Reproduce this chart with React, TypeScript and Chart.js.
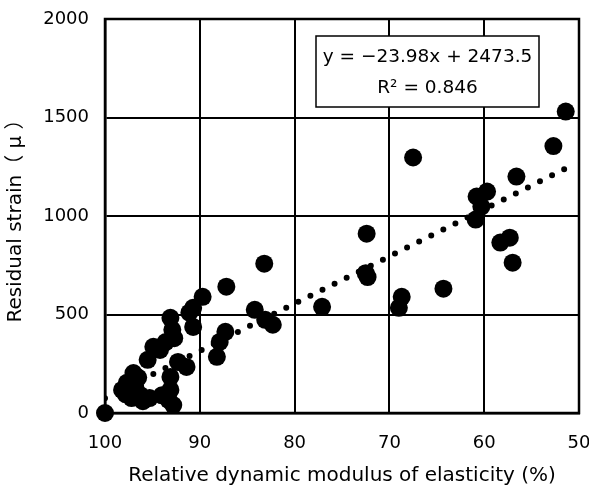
import React, { useEffect, useRef } from "react";
import { Chart, registerables } from "chart.js";

Chart.register(...registerables);

// Relative dynamic modulus of elasticity (%) for each specimen
const modulusValues: number[] = [
  100,
  98.2, 97.7, 97.0, 96.5, 96.3, 97.2, 97.8, 96.8, 96.0,
  95.5, 94.9, 94.2, 93.6, 93.1, 92.9, 92.7, 92.3, 91.4,
  93.1, 93.1, 93.3, 92.8, 95.3, 94.0,
  90.7, 91.1, 90.7, 89.7,
  88.2, 87.9, 87.3, 87.2,
  84.2, 83.2, 83.1, 82.3,
  77.1,
  72.4, 72.5, 72.3,
  68.7, 69.0, 67.5, 64.3,
  60.8, 59.7, 60.3, 60.9,
  58.3, 57.3, 57.0, 56.6,
  52.7, 51.4,
];

// Residual strain (μ) for each specimen
const strainValues: number[] = [
  0,
  117, 153, 203, 180, 92, 76, 95, 130, 60,
  270, 336, 320, 360, 483, 422, 380, 259, 234,
  183, 117, 66, 40, 76, 90,
  534, 509, 437, 590,
  285, 361, 412, 641,
  524, 758, 473, 448,
  539,
  910, 710, 690,
  590, 534, 1297, 631,
  1099, 1124, 1048, 982,
  865, 890, 763, 1200,
  1355, 1530,
];

// Linear trendline shown in the chart
const trendSlope = -23.98;
const trendIntercept = 2473.5;
const trendRange: number[] = [100, 51.4];
const equationLines: string[] = ["y = \u221223.98x + 2473.5", "R\u00B2 = 0.846"];

const xTicks: number[] = [100, 90, 80, 70, 60, 50];
const yTicks: number[] = [0, 500, 1000, 1500, 2000];

const FONT = "'DejaVu Sans', 'Liberation Sans', sans-serif";
const TITLE_FONT = "'DejaVu Sans', 'Noto Sans CJK JP', sans-serif";

const equationBoxPlugin = {
  id: "equationBox",
  afterDraw(chart: any) {
    const ctx = chart.ctx;
    const left = 316;
    const top = 36;
    const w = 223;
    const h = 71;
    ctx.save();
    ctx.fillStyle = "#ffffff";
    ctx.fillRect(left, top, w, h);
    ctx.strokeStyle = "#000000";
    ctx.lineWidth = 1.5;
    ctx.strokeRect(left, top, w, h);
    ctx.fillStyle = "#000000";
    ctx.font = `18.5px ${FONT}`;
    ctx.textAlign = "center";
    ctx.textBaseline = "middle";
    ctx.fillText(equationLines[0], left + w / 2, top + 21);
    ctx.fillText(equationLines[1], left + w / 2, top + 52);
    ctx.restore();
  },
};

export default function App() {
  const canvasRef = useRef<HTMLCanvasElement | null>(null);

  useEffect(() => {
    document.body.style.margin = "0";
    const canvas = canvasRef.current;
    if (!canvas) return;

    const points = modulusValues.map((x, i) => ({ x, y: strainValues[i] }));
    const trend = trendRange.map((x) => ({ x, y: trendSlope * x + trendIntercept }));

    const chart = new Chart(canvas, {
      type: "scatter",
      data: {
        datasets: [
          {
            type: "line",
            label: "Trend",
            data: trend,
            borderColor: "#000000",
            borderWidth: 6,
            borderDash: [0, 13.5],
            borderCapStyle: "round",
            pointRadius: 0,
            fill: false,
          } as any,
          {
            label: "Data",
            data: points,
            backgroundColor: "#000000",
            borderWidth: 0,
            pointRadius: 9,
            pointHoverRadius: 9,
            clip: false,
          } as any,
        ],
      },
      options: {
        responsive: false,
        animation: false,
        events: [],
        layout: { padding: { top: 19, right: 10, left: 0, bottom: 0 } },
        plugins: {
          legend: { display: false },
          tooltip: { enabled: false },
        },
        scales: {
          x: {
            type: "linear",
            reverse: true,
            min: 50,
            max: 100,
            afterBuildTicks(scale: any) {
              scale.ticks = xTicks.map((v) => ({ value: v }));
            },
            afterFit(scale: any) {
              scale.height = 78;
              scale.paddingLeft = 0;
              scale.paddingRight = 0;
            },
            grid: { color: "#000000", lineWidth: 2, drawTicks: false },
            border: { display: true, color: "#000000", width: 2.5 },
            ticks: {
              color: "#000000",
              font: { family: FONT, size: 18 },
              padding: 20,
              maxRotation: 0,
              callback: (v: any) => String(v),
            },
            title: {
              display: true,
              text: "Relative dynamic modulus of elasticity (%)",
              color: "#000000",
              font: { family: FONT, size: 20 },
              padding: { top: 4, bottom: 3 },
            },
          },
          y: {
            type: "linear",
            min: 0,
            max: 2000,
            afterBuildTicks(scale: any) {
              scale.ticks = yTicks.map((v) => ({ value: v }));
            },
            afterFit(scale: any) {
              scale.width = 105;
              scale.paddingTop = 0;
              scale.paddingBottom = 0;
            },
            grid: { color: "#000000", lineWidth: 2, drawTicks: false },
            border: { display: true, color: "#000000", width: 2.5 },
            ticks: {
              color: "#000000",
              font: { family: FONT, size: 18 },
              padding: 16,
              callback: (v: any) => String(v),
            },
            title: {
              display: true,
              text: "Residual strain\uFF08 \u03BC \uFF09",
              color: "#000000",
              font: { family: TITLE_FONT, size: 20 },
              padding: { top: 4, bottom: 3 },
            },
          },
        },
      },
      plugins: [
        equationBoxPlugin,
        {
          id: "frame",
          afterDraw(c: any) {
            const { left, right, top, bottom } = c.chartArea;
            const ctx = c.ctx;
            ctx.save();
            ctx.strokeStyle = "#000000";
            ctx.lineWidth = 2.5;
            ctx.strokeRect(left, top, right - left, bottom - top);
            ctx.restore();
          },
        },
      ],
    });

    return () => chart.destroy();
  }, []);

  return (
    <div style={{ width: 589, height: 491 }}>
      <canvas ref={canvasRef} width={589} height={491} />
    </div>
  );
}
